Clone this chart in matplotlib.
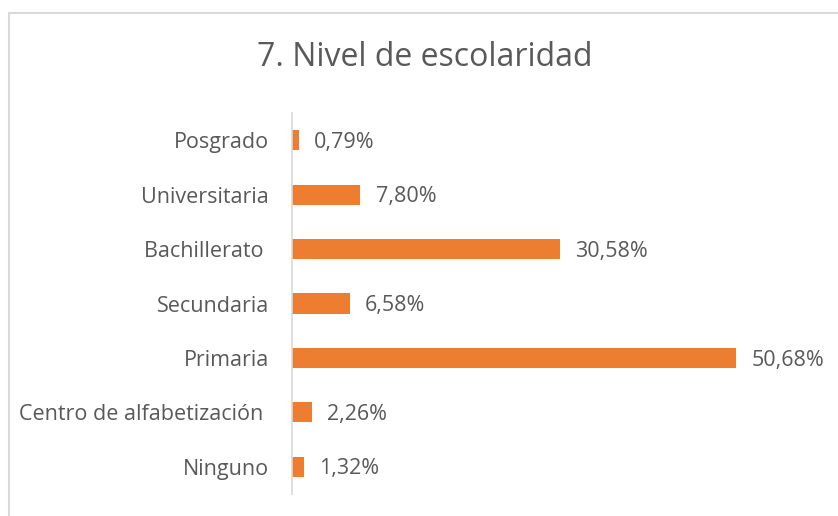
import matplotlib.pyplot as plt
from matplotlib.patches import Rectangle

# %% Data
categorias = ['Posgrado', 'Universitaria', 'Bachillerato ', 'Secundaria', 'Primaria',
              'Centro de alfabetización ', 'Ninguno']
porcentajes = [0.79, 7.80, 30.58, 6.58, 50.68, 2.26, 1.32]
etiquetas = ['0,79%', '7,80%', '30,58%', '6,58%', '50,68%', '2,26%', '1,32%']

naranja = '#ED7D31'
gris_texto = '#595959'

plt.rcParams['font.family'] = ['Open Sans', 'DejaVu Sans']

# %% Figure
W, H = 838, 516
fig = plt.figure(figsize=(W / 100, H / 100), dpi=100)

# light border (top and left visible, rest cut off)
fig.patches.append(Rectangle((8.5 / W, -0.1), 1.2, (H - 13) / H + 0.1,
                             transform=fig.transFigure, fill=False,
                             edgecolor='#D9D9D9', linewidth=1.5))

ax = fig.add_axes([292 / W, (H - 494) / H, (818 - 292) / W, (494 - 113) / H])

y = list(range(len(categorias)))[::-1]
ax.barh(y, porcentajes, height=0.37, color=naranja)
ax.set_xlim(0, 60)
ax.set_ylim(-0.5, len(categorias) - 0.5)

for yi, v, t in zip(y, porcentajes, etiquetas):
    ax.annotate(t, (v, yi), xytext=(11, -1.5), textcoords='offset points',
                va='center', ha='left', fontsize=15.5, color=gris_texto)

ax.set_yticks(y)
ax.set_yticklabels(categorias, fontsize=15.5, color=gris_texto)
ax.tick_params(axis='y', length=0, pad=16.5)
ax.set_xticks([])
for s in ['top', 'right', 'bottom']:
    ax.spines[s].set_visible(False)
ax.spines['left'].set_color('#D9D9D9')
ax.spines['left'].set_linewidth(1.2)

fig.text(425 / W, 1 - 57 / H, '7. Nivel de escolaridad', ha='center', va='center',
         fontsize=23, color=gris_texto)

fig.savefig('out.png', dpi=100)
